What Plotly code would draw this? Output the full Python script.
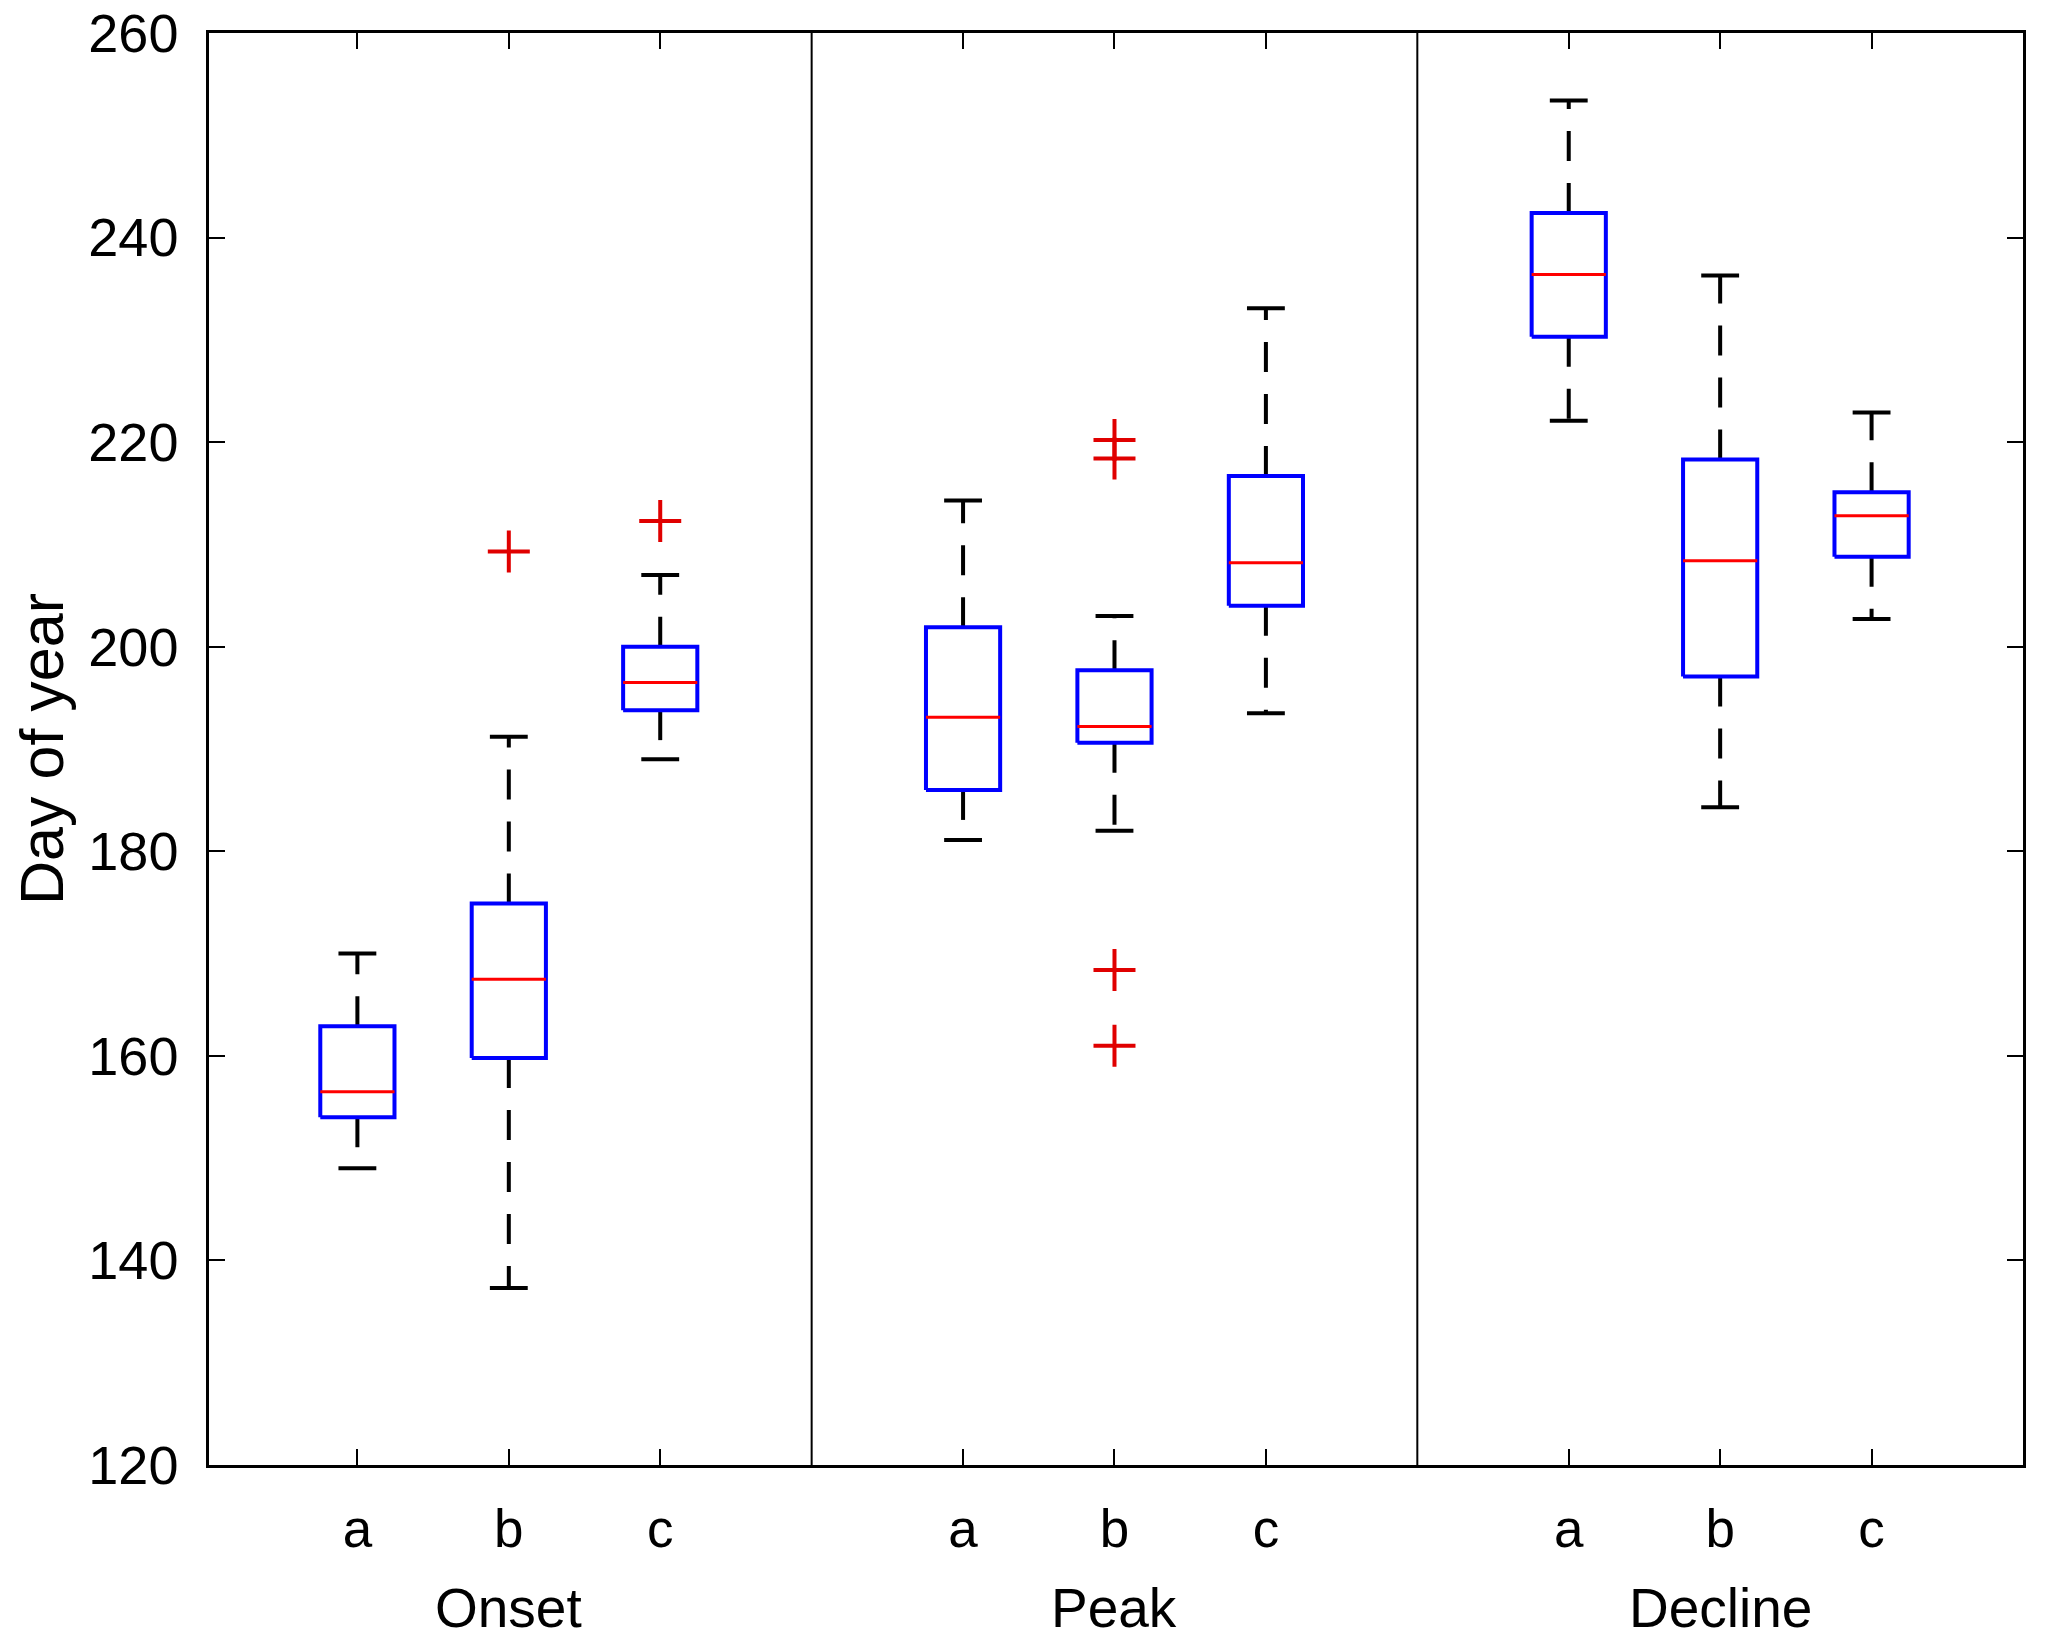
import plotly.graph_objects as go

# groups and categories
phases = ["Onset", "Peak", "Decline"]
cats = ["a", "b", "c"]
positions = [1, 2, 3, 5, 6, 7, 9, 10, 11]
panel_edges = [4, 8]

# box statistics (day of year), order: Onset a-c, Peak a-c, Decline a-c
whisk_lo = [149, 137.3, 189, 181.1, 182, 193.5, 222.1, 184.3, 202.7]
q1 = [154, 159.8, 193.8, 186, 190.6, 204, 230.3, 197.1, 208.8]
median = [156.5, 167.5, 196.5, 193.1, 192.2, 208.2, 236.4, 208.4, 212.8]
q3 = [162.9, 174.9, 200, 201.9, 197.7, 216.7, 242.4, 218.3, 215.1]
whisk_hi = [170, 191.2, 207, 214.3, 203, 233.1, 253.4, 236.3, 222.9]

# outliers
out_x = [2, 3, 6, 6, 6, 6]
out_y = [209.3, 212.3, 220.2, 218.4, 168.4, 161]

BW = 0.245  # half box width
CW = 0.125  # half cap width
FONT = "Liberation Sans, Arial, sans-serif"

fig = go.Figure()

box_x, box_y, med_x, med_y = [], [], [], []
wh_x, wh_y, cap_x, cap_y = [], [], [], []
for p, lo, a, m, b, hi in zip(positions, whisk_lo, q1, median, q3, whisk_hi):
    box_x += [p - BW, p + BW, p + BW, p - BW, p - BW, None]
    box_y += [a, a, b, b, a, None]
    med_x += [p - BW, p + BW, None]
    med_y += [m, m, None]
    wh_x += [p, p, None, p, p, None]
    wh_y += [b, hi, None, a, lo, None]
    cap_x += [p - CW, p + CW, None, p - CW, p + CW, None]
    cap_y += [hi, hi, None, lo, lo, None]

fig.add_trace(go.Scatter(x=wh_x, y=wh_y, mode="lines",
                         line=dict(color="black", width=4, dash="30px,22px")))
fig.add_trace(go.Scatter(x=cap_x, y=cap_y, mode="lines",
                         line=dict(color="black", width=4)))
fig.add_trace(go.Scatter(x=box_x, y=box_y, mode="lines",
                         line=dict(color="#0000ff", width=4)))
fig.add_trace(go.Scatter(x=med_x, y=med_y, mode="lines",
                         line=dict(color="#ff0000", width=3)))
fig.add_trace(go.Scatter(x=out_x, y=out_y, mode="markers",
                         marker=dict(symbol="cross-thin", size=30,
                                     line=dict(color="#e00000", width=4))))

for e in panel_edges:
    fig.add_vline(x=e, line=dict(color="black", width=2))

for i, ph in enumerate(phases):
    fig.add_annotation(x=positions[i * 3 + 1], y=0, xref="x", yref="paper",
                       yshift=-110, text=ph, showarrow=False,
                       font=dict(family=FONT, size=55, color="black"),
                       yanchor="top")

fig.update_layout(
    width=2047, height=1644,
    margin=dict(l=201, r=32, t=25, b=187),
    paper_bgcolor="white", plot_bgcolor="white",
    showlegend=False,
    font=dict(family=FONT, color="black"),
)
fig.update_xaxes(
    range=[0.02, 12], tickvals=positions, ticktext=cats * 3,
    ticks="inside", ticklen=16, tickwidth=2, tickcolor="black",
    showline=True, linecolor="black", linewidth=3, mirror="ticks",
    showgrid=False, zeroline=False, automargin=False,
    tickfont=dict(family=FONT, size=53), ticklabelstandoff=15,
)
fig.update_yaxes(
    range=[120, 260], tickvals=[120, 140, 160, 180, 200, 220, 240, 260],
    ticks="inside", ticklen=16, tickwidth=2, tickcolor="black",
    showline=True, linecolor="black", linewidth=2.5, mirror="ticks",
    showgrid=False, zeroline=False, automargin=False,
    ticklabeloverflow="allow",
    tickfont=dict(family=FONT, size=54), ticklabelstandoff=17,
    title=dict(text="Day of year", font=dict(family=FONT, size=61), standoff=34),
)

fig.write_html("out.html")
